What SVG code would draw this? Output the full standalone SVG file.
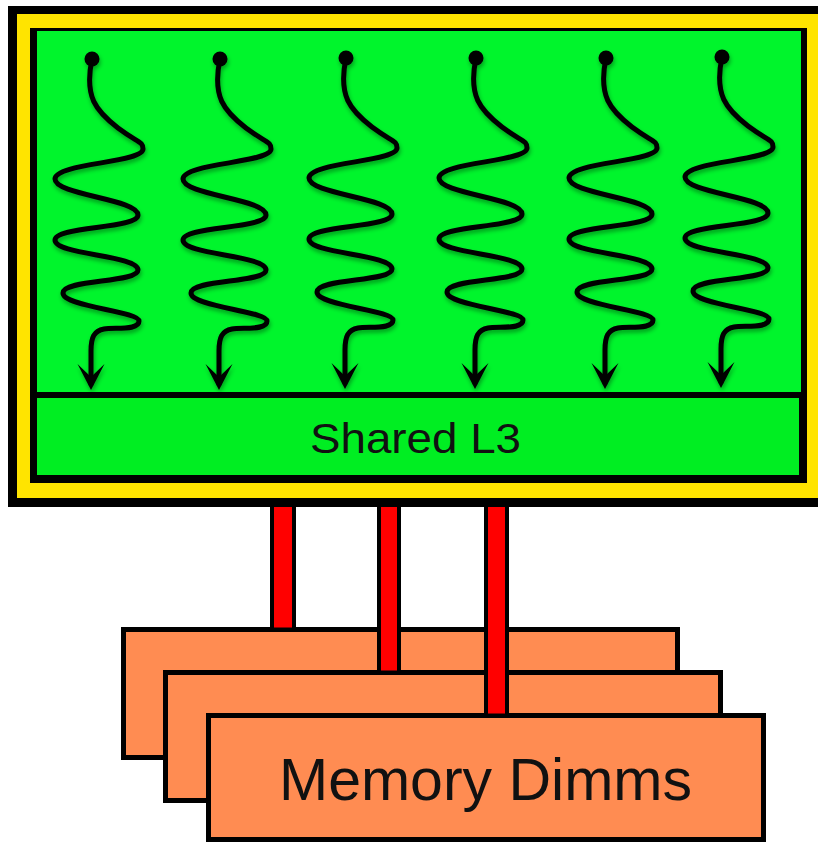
<svg xmlns="http://www.w3.org/2000/svg" width="818" height="843" viewBox="0 0 818 843">
<style>
.lbl{font-family:"Liberation Sans",Arial,Helvetica,sans-serif;fill:#111}
.sq{fill:none;stroke:#000;stroke-width:5;stroke-linecap:round;stroke-linejoin:round}
.dimm{fill:#FF8C52;stroke:#000;stroke-width:5}
.bus{fill:#FF0000;stroke:#000;stroke-width:4}
</style>
<defs>
<filter id="sh" x="-30%" y="-10%" width="160%" height="120%">
<feDropShadow dx="1" dy="3" stdDeviation="2" flood-color="#000" flood-opacity="0.35"/>
</filter>
<marker id="ah" markerUnits="userSpaceOnUse" orient="auto" overflow="visible" markerWidth="1" markerHeight="1" refX="0" refY="0">
<path d="M6,0 L-20,-13.5 L-7,0 L-20,13.5 Z" fill="#000"/>
</marker>
<path id="wave" class="sq" marker-end="url(#ah)" d="M0,0 C -8,38 4,52 26,69 C 46,84 51,82 51,90 C 51,104 -37,104 -37,120 C -37,136 46,140 46,156 C 46,170 -37,167 -37,181 C -37,196 46,196 46,211 C 46,224 -29,220 -29,234 C -29,248 47,252 47,262 C 47,272 22,268 12,270 C 2,272 -1,278 -1,292 L -1,325"/>
</defs>
<rect width="818" height="843" fill="#fff"/>

<g id="dimm1"><rect class="dimm" x="123.5" y="629.5" width="554" height="128"/></g>
<g id="dimm2"><rect class="dimm" x="165.5" y="672.5" width="555" height="128"/></g>
<g id="dimm3"><rect class="dimm" x="208.5" y="715.5" width="555" height="124"/>
<text class="lbl" x="279" y="800" font-size="59">Memory Dimms</text></g>

<g id="connectors">
<rect class="bus" x="272" y="503" width="22" height="126.5"/>
<rect class="bus" x="379" y="503" width="20" height="169.5"/>
<rect class="bus" x="486" y="503" width="21" height="212.5"/>
</g>

<g id="cpu">
<rect x="8" y="6" width="820" height="501" fill="#000"/>
<rect x="17" y="14" width="801" height="484" fill="#FFE400"/>
<rect x="30" y="28" width="777" height="455" fill="#000"/>
<rect x="37" y="31" width="764" height="361" fill="#00F52C"/>
</g>

<g id="l3">
<rect x="37" y="398" width="762" height="77" fill="#00EE22"/>
<text class="lbl" x="310" y="453" font-size="43" textLength="211" lengthAdjust="spacingAndGlyphs">Shared L3</text>
</g>

<g id="thread1" filter="url(#sh)" transform="translate(92,59)"><use href="#wave"/><circle r="7.5" fill="#000"/></g>
<g id="thread2" filter="url(#sh)" transform="translate(220,59)"><use href="#wave"/><circle r="7.5" fill="#000"/></g>
<g id="thread3" filter="url(#sh)" transform="translate(346,58)"><use href="#wave"/><circle r="7.5" fill="#000"/></g>
<g id="thread4" filter="url(#sh)" transform="translate(476,58)"><use href="#wave"/><circle r="7.5" fill="#000"/></g>
<g id="thread5" filter="url(#sh)" transform="translate(606,58)"><use href="#wave"/><circle r="7.5" fill="#000"/></g>
<g id="thread6" filter="url(#sh)" transform="translate(722,57)"><use href="#wave"/><circle r="7.5" fill="#000"/></g>
</svg>
